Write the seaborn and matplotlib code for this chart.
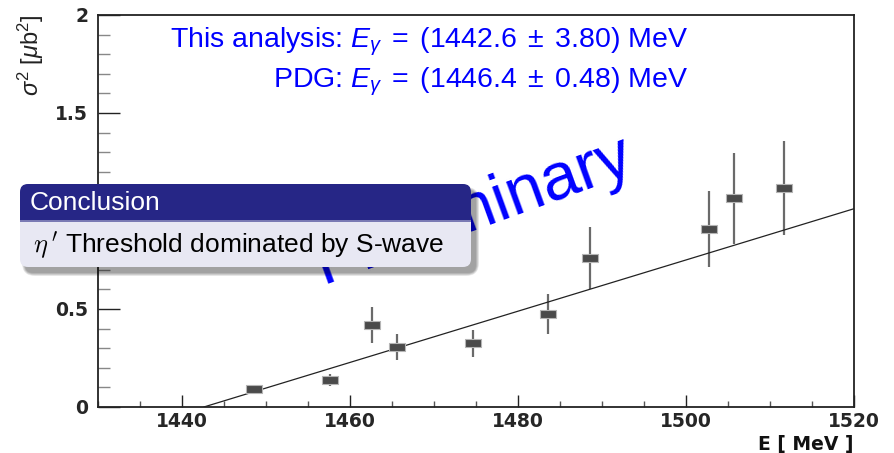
import numpy as np
import pandas as pd
import matplotlib
matplotlib.use("Agg")
import matplotlib.pyplot as plt
import seaborn as sns
from matplotlib.patches import FancyBboxPatch, Rectangle
from matplotlib.path import Path
from matplotlib.ticker import MultipleLocator
from matplotlib.transforms import IdentityTransform

# measured squared cross section vs photon energy
energy = [1448.6, 1457.6, 1462.6, 1465.6, 1474.6, 1483.6, 1488.6, 1502.7, 1505.7, 1511.7]
sigma2 = [0.092, 0.136, 0.418, 0.304, 0.325, 0.474, 0.760, 0.908, 1.066, 1.117]
sigma2_err = [0.020, 0.030, 0.090, 0.066, 0.070, 0.100, 0.160, 0.195, 0.232, 0.240]

# linear threshold fit
fit_threshold = 1442.6
fit_slope = 0.01307

x_ticks = [1440, 1460, 1480, 1500, 1520]
x_tick_labels = ["1440", "1460", "1480", "1500", "1520"]
y_ticks = [0, 0.5, 1, 1.5, 2]
y_tick_labels = ["0", "0.5", "", "1.5", "2"]

df = pd.DataFrame({"E": energy, "s2": sigma2, "err": sigma2_err})
fit_E = np.linspace(fit_threshold, 1520, 50)
fit_df = pd.DataFrame({"E": fit_E, "s2": fit_slope * (fit_E - fit_threshold)})

sns.set_theme(style="ticks")
plt.rcParams["font.family"] = ["Liberation Sans", "DejaVu Sans"]
plt.rcParams["mathtext.fontset"] = "custom"
plt.rcParams["mathtext.rm"] = "Liberation Sans"
plt.rcParams["mathtext.it"] = "Liberation Sans:italic"
plt.rcParams["mathtext.bf"] = "Liberation Sans:bold"

W, H = 894, 453
fig = plt.figure(figsize=(W / 100, H / 100), dpi=100)
fig.patch.set_facecolor("white")
ax = fig.add_axes([98 / W, 1 - 407 / H, (854 - 98) / W, (407 - 15) / H])
ax.set_facecolor("white")

# error bars and rectangular markers
ax.errorbar(df["E"], df["s2"], yerr=df["err"], fmt="none", ecolor="#6a6a6a",
            elinewidth=1.6, capsize=0, zorder=2)
rect_marker = Path([(-1, -0.5), (1, -0.5), (1, 0.5), (-1, 0.5), (-1, -0.5)],
                   [Path.MOVETO, Path.LINETO, Path.LINETO, Path.LINETO, Path.CLOSEPOLY])
sns.scatterplot(data=df, x="E", y="s2", marker=rect_marker, s=132, color="#4a4a4a",
                edgecolor="#b5b5b5", linewidth=0.8, ax=ax, zorder=3, legend=False)

# fit line
sns.lineplot(data=fit_df, x="E", y="s2", color="#222222", linewidth=0.9, ax=ax, zorder=2)

ax.set_xlim(1430, 1520)
ax.set_ylim(0, 2)
ax.set_xticks(x_ticks, labels=x_tick_labels, fontfamily="DejaVu Sans",
              fontweight="bold", fontsize=13.5)
ax.set_yticks(y_ticks, labels=y_tick_labels, fontfamily="DejaVu Sans",
              fontweight="bold", fontsize=13.5)
ax.xaxis.set_minor_locator(MultipleLocator(5))
ax.yaxis.set_minor_locator(MultipleLocator(0.1))
ax.tick_params(axis="x", which="major", direction="in", length=8.6, width=1,
               color="#222222", pad=3.6, top=False)
ax.tick_params(axis="x", which="minor", direction="in", length=4.3, width=1,
               color="#555555", top=False)
ax.tick_params(axis="y", which="major", direction="in", length=15.8, width=1,
               color="#222222", pad=7, right=False)
ax.tick_params(axis="y", which="minor", direction="in", length=8.6, width=1,
               color="#888888", right=False)
for sp in ax.spines.values():
    sp.set_linewidth(1.3)
    sp.set_color("#222222")

ax.set_xlabel("E [ MeV ]", loc="right", fontsize=13.5, fontweight="bold",
              fontfamily="DejaVu Sans", color="#111111")
ax.xaxis.set_label_coords(1.0, -(435 - 407) / 392)
ax.set_ylabel(r"$\sigma^{2}$ [$\mu$b$^{2}$]", loc="top", fontsize=17, color="#222222")
ax.yaxis.set_label_coords(-(98 - 46) / 756, 1.0)

# watermark
ax.text(1456.7, 0.628, "Preliminary", rotation=20, rotation_mode="anchor",
        ha="left", va="baseline", fontsize=48, color="#0000ff", zorder=1)

# energy results
fig.text(688 / W, 1 - 47 / H,
         r"This analysis: $E_{\gamma}\;=\;(1442.6\;\pm\;3.80)$ MeV",
         ha="right", va="baseline", fontsize=20.5, color="#0000ff")
fig.text(688 / W, 1 - 88 / H,
         r"PDG: $E_{\gamma}\;=\;(1446.4\;\pm\;0.48)$ MeV",
         ha="right", va="baseline", fontsize=20.5, color="#0000ff")

# conclusion block (pixel coordinates, y measured from top)
idt = IdentityTransform()
bx0, bx1, by0, by1, hy = 20, 471, 184, 267, 220
r = 8
for k in range(6):
    fig.add_artist(FancyBboxPatch((bx0 + 5 - k * 0.6, H - by1 - 6 - k * 0.6),
                                  bx1 - bx0 + k * 1.2, by1 - by0 + k * 1.2,
                                  boxstyle=f"round,pad=0,rounding_size={r + k}",
                                  transform=idt, facecolor="black", edgecolor="none",
                                  alpha=0.07, zorder=9))
fig.add_artist(FancyBboxPatch((bx0, H - by1), bx1 - bx0, by1 - by0,
                              boxstyle=f"round,pad=0,rounding_size={r}", transform=idt,
                              facecolor="#e8e8f3", edgecolor="none", zorder=10))
fig.add_artist(FancyBboxPatch((bx0, H - hy - 12), bx1 - bx0, hy + 12 - by0,
                              boxstyle=f"round,pad=0,rounding_size={r}", transform=idt,
                              facecolor="#262686", edgecolor="none", zorder=11))
fig.add_artist(Rectangle((bx0, H - hy - 12), bx1 - bx0, 12, transform=idt,
                         facecolor="#e8e8f3", edgecolor="none", zorder=12))
fig.add_artist(Rectangle((bx0, H - hy - 2), bx1 - bx0, 2, transform=idt,
                         facecolor="#7a7ab4", edgecolor="none", zorder=12))
fig.text(30 / W, 1 - 210 / H, "Conclusion", ha="left", va="baseline",
         fontsize=19, color="white", zorder=13)
fig.text(33 / W, 1 - 253 / H, r"$\eta\,'$ Threshold dominated by S-wave",
         ha="left", va="baseline", fontsize=19, color="black",
         math_fontfamily="cm", zorder=13)

fig.savefig("out.png", dpi=100, facecolor="white")
